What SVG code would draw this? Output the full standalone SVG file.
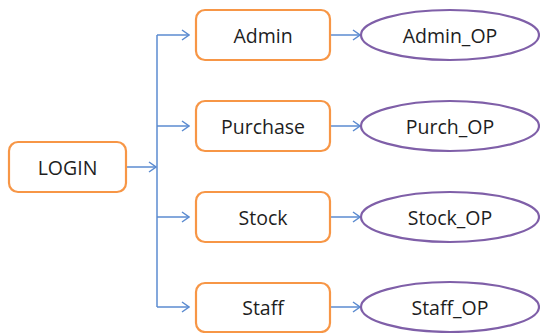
<svg xmlns="http://www.w3.org/2000/svg" width="540" height="333" viewBox="0 0 540 333">
<defs>
<style>
.box{fill:#fff;stroke:#f79646;stroke-width:2.2}
.ell{fill:#fff;stroke:#7f5fa8;stroke-width:2.2}
.t{font-family:"Open Sans","Liberation Sans",sans-serif;font-size:19.5px;fill:#1e1e1e;text-anchor:middle;dominant-baseline:central}
.c{fill:none;stroke:#5b8bd0;stroke-width:1.5}
</style>
<marker id="ar" markerWidth="12" markerHeight="12" viewBox="0 0 12 12" refX="11" refY="6" orient="auto" markerUnits="userSpaceOnUse">
<path d="M4,1 L11,6 L4,11" fill="none" stroke="#5b8bd0" stroke-width="1.5"/>
</marker>
</defs>
<rect width="540" height="333" fill="#fff"/>
<g id="connectors">
<path class="c" d="M127,167 H156" marker-end="url(#ar)"/>
<path class="c" d="M157,35 V307"/>
<path class="c" d="M157,35 H189" marker-end="url(#ar)"/>
<path class="c" d="M157,126 H189" marker-end="url(#ar)"/>
<path class="c" d="M157,217 H189" marker-end="url(#ar)"/>
<path class="c" d="M157,307 H189" marker-end="url(#ar)"/>
<path class="c" d="M331,35 H360" marker-end="url(#ar)"/>
<path class="c" d="M331,126 H360" marker-end="url(#ar)"/>
<path class="c" d="M331,217 H360" marker-end="url(#ar)"/>
<path class="c" d="M331,307 H360" marker-end="url(#ar)"/>
</g>
<g id="login"><rect class="box" x="9" y="142" width="117" height="50" rx="9"/><text class="t" x="67.5" y="167">LOGIN</text></g>
<g id="admin"><rect class="box" x="196" y="10" width="134" height="50" rx="9"/><text class="t" x="263" y="35">Admin</text></g>
<g id="purchase"><rect class="box" x="196" y="101" width="134" height="50" rx="9"/><text class="t" x="263" y="126">Purchase</text></g>
<g id="stock"><rect class="box" x="196" y="192" width="134" height="50" rx="9"/><text class="t" x="263" y="217">Stock</text></g>
<g id="staff"><rect class="box" x="196" y="283" width="134" height="49" rx="9"/><text class="t" x="263" y="307">Staff</text></g>
<g id="admin_op"><ellipse class="ell" cx="450" cy="35" rx="89" ry="25"/><text class="t" x="450" y="35">Admin_OP</text></g>
<g id="purch_op"><ellipse class="ell" cx="450" cy="126" rx="89" ry="25"/><text class="t" x="450" y="126">Purch_OP</text></g>
<g id="stock_op"><ellipse class="ell" cx="450" cy="217" rx="89" ry="25"/><text class="t" x="450" y="217">Stock_OP</text></g>
<g id="staff_op"><ellipse class="ell" cx="450" cy="307" rx="89" ry="25"/><text class="t" x="450" y="307">Staff_OP</text></g>
</svg>
